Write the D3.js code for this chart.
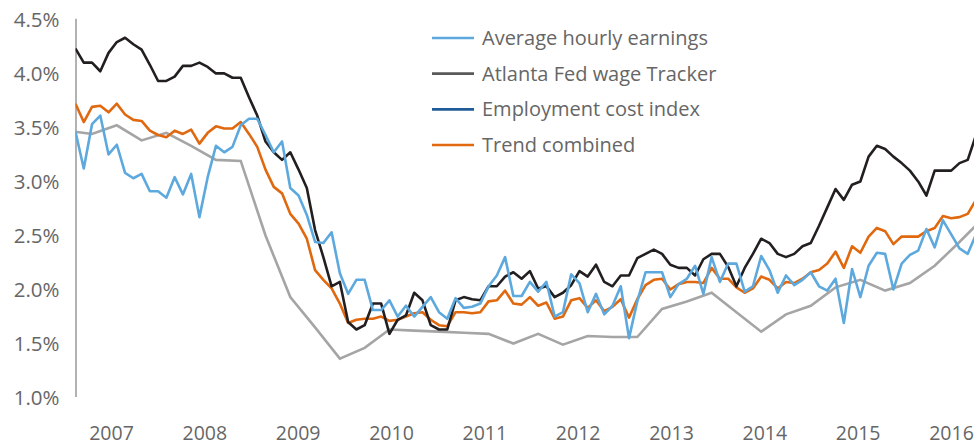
<!DOCTYPE html>
<html>
<head>
<meta charset="utf-8">
<script src="https://cdn.jsdelivr.net/npm/d3@7"></script>
<style>
  body { margin: 0; background: #fff; }
  text { font-family: "Open Sans", "Noto Sans", sans-serif; fill: #666; }
</style>
</head>
<body>
<div id="container"></div>
<script>
// Chart dimensions
const width = 974;
const height = 446;
const plotLeft = 75.5;
const plotRight = 976;
const yTop = 18.3;
const yBottom = 396.5;

// Monthly series, in percent (index 0 = first month shown)
const avgHourly = [
	3.45, 3.11, 3.52, 3.60, 3.24, 3.33, 3.07, 3.02, 3.06, 2.90,
	2.90, 2.84, 3.03, 2.87, 3.06, 2.66, 3.03, 3.32, 3.26, 3.31,
	3.51, 3.57, 3.57, 3.42, 3.26, 3.36, 2.93, 2.86, 2.68, 2.43,
	2.42, 2.52, 2.14, 1.95, 2.08, 2.08, 1.80, 1.80, 1.89, 1.74,
	1.84, 1.74, 1.83, 1.92, 1.78, 1.72, 1.91, 1.82, 1.83, 1.86,
	2.02, 2.12, 2.29, 1.93, 1.93, 2.06, 1.97, 2.06, 1.74, 1.78,
	2.13, 2.05, 1.78, 1.95, 1.76, 1.84, 2.02, 1.54, 1.88, 2.15,
	2.15, 2.15, 1.92, 2.04, 2.09, 2.21, 1.95, 2.29, 2.06, 2.23,
	2.23, 1.97, 2.02, 2.30, 2.17, 1.96, 2.12, 2.03, 2.08, 2.15,
	2.02, 1.98, 2.09, 1.68, 2.18, 1.92, 2.21, 2.33, 2.32, 1.99,
	2.23, 2.31, 2.35, 2.55, 2.38, 2.63, 2.50, 2.37, 2.32, 2.50
];

const atlantaFed = [
	4.22, 4.09, 4.09, 4.01, 4.18, 4.28, 4.32, 4.26, 4.21, 4.07,
	3.92, 3.92, 3.96, 4.06, 4.06, 4.09, 4.05, 3.99, 3.99, 3.95,
	3.95, 3.77, 3.60, 3.36, 3.26, 3.19, 3.26, 3.10, 2.93, 2.54,
	2.29, 2.02, 2.06, 1.69, 1.62, 1.66, 1.86, 1.86, 1.58, 1.71,
	1.75, 1.96, 1.89, 1.66, 1.62, 1.62, 1.89, 1.92, 1.90, 1.89,
	2.02, 2.02, 2.11, 2.15, 2.09, 2.16, 2.00, 2.02, 1.92, 1.96,
	2.03, 2.16, 2.11, 2.22, 2.06, 2.02, 2.12, 2.12, 2.28, 2.32,
	2.36, 2.32, 2.22, 2.19, 2.19, 2.12, 2.27, 2.32, 2.32, 2.20,
	2.02, 2.19, 2.32, 2.46, 2.42, 2.32, 2.29, 2.32, 2.39, 2.42,
	2.58, 2.75, 2.92, 2.82, 2.96, 2.99, 3.22, 3.32, 3.29, 3.22,
	3.16, 3.09, 2.99, 2.86, 3.09, 3.09, 3.09, 3.16, 3.19, 3.42
];

const trendCombined = [
	3.71, 3.54, 3.68, 3.69, 3.63, 3.71, 3.61, 3.56, 3.55, 3.46,
	3.42, 3.40, 3.46, 3.43, 3.47, 3.34, 3.44, 3.50, 3.48, 3.48,
	3.54, 3.43, 3.31, 3.10, 2.94, 2.88, 2.69, 2.60, 2.46, 2.17,
	2.08, 2.00, 1.86, 1.68, 1.71, 1.72, 1.72, 1.74, 1.70, 1.71,
	1.74, 1.77, 1.78, 1.71, 1.66, 1.65, 1.78, 1.78, 1.77, 1.78,
	1.88, 1.89, 1.98, 1.86, 1.85, 1.92, 1.84, 1.87, 1.72, 1.74,
	1.89, 1.91, 1.82, 1.89, 1.79, 1.83, 1.90, 1.73, 1.90, 2.03,
	2.08, 2.09, 1.99, 2.04, 2.06, 2.06, 2.05, 2.19, 2.09, 2.09,
	2.01, 1.96, 2.00, 2.11, 2.08, 2.00, 2.06, 2.05, 2.09, 2.15,
	2.17, 2.23, 2.34, 2.19, 2.39, 2.33, 2.48, 2.56, 2.53, 2.41,
	2.48, 2.48, 2.48, 2.53, 2.56, 2.67, 2.65, 2.66, 2.69, 2.82
];

// Quarterly series: month index of each reading, and the reading
const eciMonth = [
	-1, 2, 5, 8, 11, 14, 17, 20, 23, 26,
	29, 32, 35, 38, 41, 44, 47, 50, 53, 56,
	59, 62, 65, 68, 71, 74, 77, 80, 83, 86,
	89, 92, 95, 98, 101, 104, 107, 110
];
const eciValue = [
	3.46, 3.43, 3.51, 3.37, 3.44, 3.32, 3.19, 3.18, 2.49, 1.92,
	1.64, 1.35, 1.45, 1.62, 1.61, 1.60, 1.59, 1.58, 1.49, 1.58,
	1.48, 1.56, 1.55, 1.55, 1.81, 1.88, 1.96, 1.78, 1.60, 1.76,
	1.84, 2.01, 2.08, 1.98, 2.05, 2.21, 2.43, 2.66
];

const years = [2007, 2008, 2009, 2010, 2011, 2012, 2013, 2014, 2015, 2016];
const yTicks = [1.0, 1.5, 2.0, 2.5, 3.0, 3.5, 4.0, 4.5];

const legendNames = ["Average hourly earnings", "Atlanta Fed wage Tracker", "Employment cost index", "Trend combined"];
const legendColors = ["#5DA9DD", "#595959", "#1F5B96", "#E0680F"];

// Scales
const x = d3.scaleLinear()
	.domain([0, avgHourly.length - 1])
	.range([plotLeft, plotRight]);

const xYear = d3.scaleLinear()
	.domain([2007, 2016])
	.range([111, 951]);

const y = d3.scaleLinear()
	.domain([1.0, 4.5])
	.range([yBottom, yTop]);

const svg = d3.select("#container").append("svg")
	.attr("width", width)
	.attr("height", height)
	.style("display", "block");

svg.append("defs").append("clipPath")
	.attr("id", "plotclip")
	.append("rect")
		.attr("x", plotLeft)
		.attr("y", 0)
		.attr("width", width - plotLeft)
		.attr("height", height);

// Y axis
const yAxis = svg.append("g")
	.attr("transform", `translate(${plotLeft},0)`)
	.call(d3.axisLeft(y).tickValues(yTicks).tickFormat(d => d.toFixed(1) + "%").tickSize(0).tickPadding(16));
yAxis.select(".domain").attr("stroke", "#7f7f7f").attr("stroke-width", 1.2);
yAxis.selectAll("text")
	.attr("dy", "0.4em")
	.style("font-size", "20.5px")
	.style("font-family", "'Open Sans', sans-serif")
	.attr("fill", "#666");

// X axis labels (no axis line)
const xAxis = svg.append("g")
	.attr("transform", `translate(0,440)`)
	.call(d3.axisBottom(xYear).tickValues(years).tickFormat(d3.format("d")).tickSize(0).tickPadding(0));
xAxis.select(".domain").remove();
xAxis.selectAll("text")
	.attr("y", 0)
	.attr("dy", "0")
	.style("font-size", "19.5px")
	.style("font-family", "'Open Sans', sans-serif")
	.attr("fill", "#666");

// Lines
const line = d3.line()
	.x((d, i) => x(i))
	.y(d => y(d));

const lines = svg.append("g").attr("clip-path", "url(#plotclip)");

lines.append("path")
	.attr("d", d3.line().x(d => x(d[0])).y(d => y(d[1]))(eciMonth.map((m, i) => [m, eciValue[i]])))
	.attr("fill", "none")
	.attr("stroke", "#A5A5A5")
	.attr("stroke-width", 2.6);

lines.append("path")
	.attr("d", line(trendCombined))
	.attr("fill", "none")
	.attr("stroke", "#E0680F")
	.attr("stroke-width", 2.6)
	.attr("stroke-linejoin", "round");

lines.append("path")
	.attr("d", line(atlantaFed))
	.attr("fill", "none")
	.attr("stroke", "#231F20")
	.attr("stroke-width", 2.6)
	.attr("stroke-linejoin", "round");

lines.append("path")
	.attr("d", line(avgHourly))
	.attr("fill", "none")
	.attr("stroke", "#5DA9DD")
	.attr("stroke-width", 2.6)
	.attr("stroke-linejoin", "round");

// Legend
const legend = svg.append("g");
const legendRow = d3.scalePoint().domain(legendNames).range([38, 145]);

legend.selectAll("line")
	.data(legendNames)
	.join("line")
		.attr("x1", 432)
		.attr("x2", 474)
		.attr("y1", d => legendRow(d))
		.attr("y2", d => legendRow(d))
		.attr("stroke", (d, i) => legendColors[i])
		.attr("stroke-width", 2.6);

legend.selectAll("text")
	.data(legendNames)
	.join("text")
		.attr("x", 482)
		.attr("y", d => legendRow(d))
		.attr("dy", "0.35em")
		.style("font-size", "20px")
		.text(d => d);
</script>
</body>
</html>
